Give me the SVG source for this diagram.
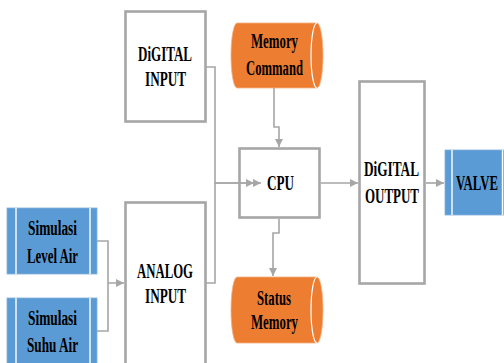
<svg xmlns="http://www.w3.org/2000/svg" width="504" height="363" viewBox="0 0 504 363">
<style>
.box{fill:#fff;stroke:#a6a6a6;stroke-width:2.6}
.blue{fill:#5b9bd5;stroke:#7fb0dd;stroke-width:0.8}
.bl{stroke:#fff;stroke-width:1.4;fill:none}
.cyl{fill:#ed7d31;stroke:#f4b183;stroke-width:0.8}
.cl{stroke:#fff;stroke-width:1.2;fill:none}
.t{font-family:"Liberation Serif","Times New Roman",serif;font-weight:bold;font-size:20px;fill:#000;text-anchor:middle}
.c{fill:none;stroke:#a6a6a6;stroke-width:1.6}
</style>
<defs>
<marker id="ah" markerUnits="userSpaceOnUse" markerWidth="10" markerHeight="10" viewBox="0 0 10 10" refX="9" refY="5" orient="auto">
<path d="M1,1 L9,5 L1,9 Z" fill="#a6a6a6"/>
</marker>
</defs>
<rect width="504" height="363" fill="#fff"/>
<g id="digital-input">
<rect class="box" x="125.5" y="11.5" width="80" height="110"/>
<text class="t" x="165" y="61" textLength="54" lengthAdjust="spacingAndGlyphs">DiGITAL</text>
<text class="t" x="165.5" y="86" textLength="41" lengthAdjust="spacingAndGlyphs">INPUT</text>
</g>
<g id="analog-input">
<rect class="box" x="125.5" y="202.5" width="80" height="170"/>
<text class="t" x="165" y="278" textLength="56" lengthAdjust="spacingAndGlyphs">ANALOG</text>
<text class="t" x="165.5" y="303" textLength="41" lengthAdjust="spacingAndGlyphs">INPUT</text>
</g>
<g id="simulasi-level-air">
<rect class="blue" x="7" y="208" width="90" height="66"/>
<line class="bl" x1="16" y1="208" x2="16" y2="274"/>
<line class="bl" x1="90" y1="208" x2="90" y2="274"/>
<text class="t" x="52.5" y="235" textLength="49" lengthAdjust="spacingAndGlyphs">Simulasi</text>
<text class="t" x="52.5" y="263" textLength="51" lengthAdjust="spacingAndGlyphs">Level Air</text>
</g>
<g id="simulasi-suhu-air">
<rect class="blue" x="7" y="298" width="90" height="80"/>
<line class="bl" x1="16" y1="298" x2="16" y2="370"/>
<line class="bl" x1="90" y1="298" x2="90" y2="370"/>
<text class="t" x="52.5" y="325" textLength="49" lengthAdjust="spacingAndGlyphs">Simulasi</text>
<text class="t" x="52.5" y="352" textLength="51" lengthAdjust="spacingAndGlyphs">Suhu Air</text>
</g>
<g id="memory-command">
<path class="cyl" d="M237,23 H317 A6,32.5 0 0 1 317,88 H237 A6,32.5 0 0 1 237,23 Z"/>
<path class="cl" d="M317,23 A6,32.5 0 0 0 317,88"/>
<text class="t" x="274.5" y="48" textLength="47" lengthAdjust="spacingAndGlyphs">Memory</text>
<text class="t" x="274.5" y="75" textLength="57" lengthAdjust="spacingAndGlyphs">Command</text>
</g>
<g id="cpu">
<rect class="box" x="239.5" y="148.5" width="80" height="69"/>
<text class="t" x="280.5" y="190" textLength="27" lengthAdjust="spacingAndGlyphs">CPU</text>
</g>
<g id="status-memory">
<path class="cyl" d="M237,277 H317 A6,33 0 0 1 317,343 H237 A6,33 0 0 1 237,277 Z"/>
<path class="cl" d="M317,277 A6,33 0 0 0 317,343"/>
<text class="t" x="274" y="305" textLength="34" lengthAdjust="spacingAndGlyphs">Status</text>
<text class="t" x="274.5" y="329" textLength="47" lengthAdjust="spacingAndGlyphs">Memory</text>
</g>
<g id="digital-output">
<rect class="box" x="359.5" y="81.5" width="65" height="202"/>
<text class="t" x="391.5" y="176" textLength="55" lengthAdjust="spacingAndGlyphs">DiGITAL</text>
<text class="t" x="392" y="203" textLength="54" lengthAdjust="spacingAndGlyphs">OUTPUT</text>
</g>
<g id="valve">
<rect class="blue" x="445" y="150" width="59" height="65"/>
<line class="bl" x1="452" y1="150" x2="452" y2="215"/>
<line class="bl" x1="502.5" y1="150" x2="502.5" y2="215"/>
<text class="t" transform="translate(477 190) scale(0.64 1)">VALVE</text>
</g>
<g id="connectors">
<path class="c" d="M206,67 H215 V183 H254" marker-end="url(#ah)"/>
<path class="c" d="M206,283 H215 V183 H261" marker-end="url(#ah)"/>
<path class="c" d="M97,241 H108 V283 H124" marker-end="url(#ah)"/>
<path class="c" d="M97,331 H108 V283"/>
<path class="c" d="M274,88 V127 H279 V147" marker-end="url(#ah)"/>
<path class="c" d="M279,219 V233 H273 V276" marker-end="url(#ah)"/>
<path class="c" d="M321,183 H358" marker-end="url(#ah)"/>
<path class="c" d="M426,183 H444" marker-end="url(#ah)"/>
</g>
</svg>
